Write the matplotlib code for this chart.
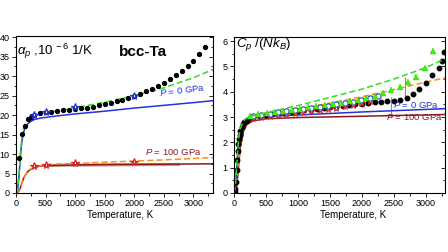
import matplotlib
matplotlib.use("Agg")
import matplotlib.pyplot as plt
from matplotlib.ticker import MultipleLocator

plt.rcParams['font.family'] = ['Liberation Sans', 'DejaVu Sans']
plt.rcParams['mathtext.fontset'] = 'custom'
plt.rcParams['mathtext.rm'] = 'Liberation Sans'
plt.rcParams['mathtext.it'] = 'Liberation Sans:italic'

# ---- left panel: thermal expansion, 10^-6 1/K ----
exp_T = [50, 100, 150, 200, 250, 300, 400, 500, 600, 700, 800, 900, 1000,
         1100, 1200, 1300, 1400, 1500, 1600, 1700, 1800, 1900, 2000, 2100,
         2200, 2300, 2400, 2500, 2600, 2700, 2800, 2900, 3000, 3100, 3200]
exp_alpha = [9.0, 15.2, 17.3, 18.9, 19.6, 20.1, 20.5, 20.7, 20.9, 21.0, 21.2,
             21.3, 21.5, 21.7, 21.9, 22.2, 22.5, 22.8, 23.2, 23.6, 24.0, 24.4,
             24.9, 25.5, 26.1, 26.8, 27.5, 28.3, 29.2, 30.2, 31.3, 32.5, 33.9,
             35.6, 37.6]

line_T = [0, 25, 50, 75, 100, 125, 150, 200, 250, 300, 400, 500, 700, 1000,
          1500, 2000, 2500, 3000, 3330]
a_p0_harm = [0, 0.5, 4.0, 9.5, 13.3, 15.4, 16.6, 17.8, 18.4, 18.8, 19.2, 19.4,
             19.8, 20.3, 21.0, 21.8, 22.5, 23.2, 23.7]
a_p0_anh = [0, 0.6, 4.5, 10.5, 14.5, 16.5, 17.6, 18.8, 19.5, 19.9, 20.3, 20.6,
            21.1, 21.9, 23.3, 25.0, 27.0, 29.6, 31.7]
a_p100_harm = [0, 0.05, 0.5, 1.4, 2.6, 3.6, 4.4, 5.5, 6.1, 6.5, 6.9, 7.0, 7.1,
               7.2, 7.3, 7.35, 7.4, 7.45, 7.5]
a_p100_anh = [0, 0.05, 0.4, 1.3, 2.5, 3.5, 4.4, 5.5, 6.2, 6.6, 7.0, 7.25, 7.45,
              7.6, 7.9, 8.2, 8.5, 8.85, 9.1]
band_T = [500, 1000, 2000, 2750]
band_a = [7.05, 7.15, 7.25, 7.3]

star_T = [300, 500, 1000, 2000]
star_a_p0 = [19.9, 20.7, 22.1, 25.0]
star_a_p100 = [6.9, 7.3, 7.7, 8.0]

# ---- right panel: heat capacity Cp/(N kB) ----
cp_T = [10, 20, 30, 40, 50, 60, 70, 80, 90, 100, 120, 140, 160, 180, 200, 250,
        300, 400, 500, 600, 700, 800, 900, 1000, 1100, 1200, 1300, 1400, 1500,
        1600, 1700, 1800, 1900, 2000, 2100, 2200, 2300, 2400, 2500, 2600, 2700,
        2800, 2900, 3000, 3100, 3200, 3260, 3290]
cp_exp = [0.02, 0.15, 0.45, 0.9, 1.3, 1.65, 1.95, 2.15, 2.3, 2.45, 2.6, 2.72,
          2.8, 2.86, 2.9, 2.97, 3.02, 3.05, 3.08, 3.11, 3.14, 3.17, 3.2, 3.23,
          3.26, 3.29, 3.32, 3.35, 3.38, 3.41, 3.44, 3.47, 3.5, 3.53, 3.56,
          3.58, 3.6, 3.62, 3.65, 3.69, 3.75, 3.9, 4.1, 4.35, 4.65, 4.95, 5.2,
          5.55]

tri_T = [250, 380, 510, 640, 770, 900, 1030, 1160, 1290, 1420, 1550, 1680,
         1810, 1940, 2070, 2200, 2330, 2460, 2590, 2720, 2850, 2980, 3110]
tri_c = [3.05, 3.1, 3.15, 3.2, 3.25, 3.29, 3.33, 3.38, 3.42, 3.47, 3.52, 3.57,
         3.63, 3.69, 3.76, 3.84, 3.93, 4.05, 4.18, 4.4, 4.6, 4.95, 5.6]
circ_T = [300, 430, 560, 690, 820, 950, 1080, 1210, 1340, 1470, 1600, 1730,
          1860, 1990, 2120, 2250]
circ_c = [3.03, 3.08, 3.13, 3.18, 3.22, 3.27, 3.31, 3.35, 3.4, 3.45, 3.5, 3.55,
          3.61, 3.67, 3.75, 3.82]
rstar_T = [300, 430, 560, 690, 820, 950, 1080, 1210, 1340, 1470, 1600, 1730,
           1860, 1990, 2120]
rstar_c = [2.95, 3.0, 3.04, 3.08, 3.12, 3.16, 3.2, 3.24, 3.28, 3.32, 3.37,
           3.42, 3.48, 3.55, 3.62]
gray_T = [2457, 2676]
gray_lo = [3.0, 3.66]
gray_hi = [3.79, 4.58]

cline_T = [0, 20, 40, 60, 80, 100, 150, 200, 300, 500, 1000, 2000, 2500, 3000,
           3300]
c_p0_harm = [0, 0.15, 0.9, 1.7, 2.2, 2.5, 2.8, 2.9, 2.97, 3.02, 3.08, 3.2,
             3.25, 3.3, 3.33]
c_p0_anh = [0, 0.2, 1.0, 1.8, 2.3, 2.55, 2.85, 2.97, 3.05, 3.17, 3.45, 4.1,
            4.5, 4.95, 5.3]
c_p100_harm = [0, 0.01, 0.2, 0.7, 1.3, 1.8, 2.45, 2.7, 2.85, 2.93, 2.98, 3.03,
               3.06, 3.08, 3.1]
c_p100_anh = [0, 0.02, 0.3, 0.9, 1.5, 2.0, 2.6, 2.8, 2.95, 3.05, 3.3, 3.8,
              4.08, 4.38, 4.55]

BLUE = '#2233dd'
GREEN = '#33dd22'
DRED = '#8b1a1a'
ORANGE = '#ff8c1a'


def style_axes(ax, xmax, ymax, ymajor, yminor):
    ax.set_xlim(0, xmax)
    ax.set_ylim(0, ymax)
    ax.xaxis.set_major_locator(MultipleLocator(500))
    ax.xaxis.set_minor_locator(MultipleLocator(250))
    ax.yaxis.set_major_locator(MultipleLocator(ymajor))
    ax.yaxis.set_minor_locator(MultipleLocator(yminor))
    ax.tick_params(which='both', direction='out', labelsize=6.5, pad=1.5,
                   width=0.6)
    ax.tick_params(which='major', length=3)
    ax.tick_params(which='minor', length=1.8)
    for s in ax.spines.values():
        s.set_linewidth(0.7)
    tw = ax.twinx()
    tw.set_ylim(0, ymax)
    tw.yaxis.set_major_locator(MultipleLocator(ymajor))
    tw.yaxis.set_minor_locator(MultipleLocator(yminor))
    tw.tick_params(which='both', direction='in', labelright=False, width=0.6)
    tw.tick_params(which='major', length=3)
    tw.tick_params(which='minor', length=1.8)
    ax.set_xlabel('Temperature, K', fontsize=7, labelpad=0)


fig = plt.figure(figsize=(4.48, 2.52), dpi=100)
ax1 = fig.add_axes([16 / 448, 59 / 252, 197 / 448, 157 / 252])
ax2 = fig.add_axes([234 / 448, 59 / 252, 211 / 448, 156 / 252])

# left
ax1.plot(band_T, band_a, color='#b08080', lw=2.2, alpha=0.8)
ax1.plot(line_T, a_p100_harm, color=DRED, lw=1.1)
ax1.plot(line_T, a_p100_anh, color=ORANGE, lw=1.1, ls=(0, (4, 2)))
ax1.plot(line_T, a_p0_harm, color=BLUE, lw=1.1)
ax1.plot(line_T, a_p0_anh, color=GREEN, lw=1.1, ls=(0, (4, 2)))
ax1.plot(star_T, star_a_p100, ls='none', marker='*', ms=5.5, mfc='white',
         mec='#e02020', mew=0.9)
ax1.plot(exp_T, exp_alpha, ls='none', marker='o', ms=2.8, color='black')
ax1.plot(star_T, star_a_p0, ls='none', marker='*', ms=5.5, mfc='white',
         mec=BLUE, mew=0.9)
style_axes(ax1, 3330, 40.3, 5, 2.5)
ax1.xaxis.set_label_coords(0.53, -0.11)
ax1.text(0.005, 0.905, r'$\alpha_{p}$ ,10$^{\,-6}$ 1/K', transform=ax1.transAxes,
         fontsize=9.5, ha='left', va='center')
ax1.text(0.645, 0.9, 'bcc-Ta', transform=ax1.transAxes, fontsize=11,
         fontweight='bold', ha='center', va='center')
ax1.text(0.845, 0.655, r'$P$ = 0 GPa', transform=ax1.transAxes, fontsize=6.8,
         color=BLUE, ha='center', va='center', rotation=7)
ax1.text(0.8, 0.262, r'$P$ = 100 GPa', transform=ax1.transAxes, fontsize=6.8,
         color=DRED, ha='center', va='center')

# right
ax2.vlines(gray_T, gray_lo, gray_hi, color='#909090', lw=0.8)
ax2.plot(cline_T, c_p100_harm, color=DRED, lw=1.1)
ax2.plot(cline_T, c_p100_anh, color=ORANGE, lw=1.1, ls=(0, (4, 2)))
ax2.plot(cline_T, c_p0_harm, color=BLUE, lw=1.1)
ax2.plot(cp_T, cp_exp, ls='none', marker='o', ms=3.2, color='black')
ax2.plot(rstar_T, rstar_c, ls=':', color='#e02020', lw=0.9, marker='*', ms=4.5,
         mfc='white', mec='#e02020', mew=0.7)
ax2.plot(circ_T, circ_c, ls='none', marker='o', ms=3.8, mfc='white',
         mec='#2040c0', mew=0.8)
ax2.plot(tri_T, tri_c, ls='none', marker='^', ms=4.4, color='#44ee11',
         mec='#33cc00', mew=0.3)
ax2.plot(cline_T, c_p0_anh, color=GREEN, lw=1.1, ls=(0, (4, 2)))
style_axes(ax2, 3300, 6.16, 1, 0.5)
ax2.xaxis.set_label_coords(0.565, -0.11)
ax2.text(0.01, 0.955, r'$C_p$ /($Nk_B$)', transform=ax2.transAxes,
         fontsize=9.5, ha='left', va='center')
ax2.text(0.863, 0.565, r'$P$ = 0 GPa', transform=ax2.transAxes, fontsize=6.8,
         color=BLUE, ha='center', va='center')
ax2.text(0.853, 0.487, r'$P$ = 100 GPa', transform=ax2.transAxes, fontsize=6.8,
         color=DRED, ha='center', va='center')

fig.savefig('out.png', dpi=100)
